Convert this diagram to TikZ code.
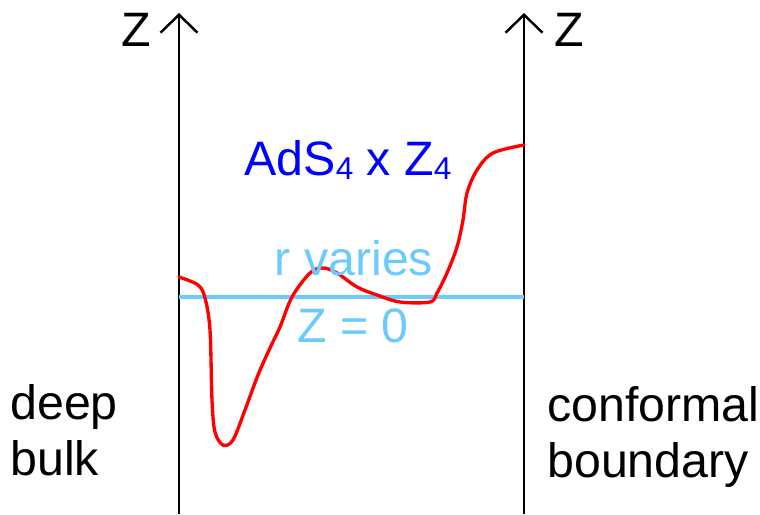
\documentclass[tikz,border=0pt]{standalone}
\usepackage{fontspec}
\setmainfont{Liberation Sans}
\usetikzlibrary{positioning, arrows.meta}
\definecolor{adsBlue}{HTML}{0000FF}
\definecolor{adsSky}{HTML}{6CCBFA}
\definecolor{adsRed}{HTML}{FF0000}
\tikzset{
  axisline/.style={line width=1.2pt, -{Straight Barb[length=0.36cm, width=0.74cm, line width=1.4pt]}},
  bigtext/.style={inner sep=0pt, font=\fontsize{27.5}{32}\selectfont},
}
\newcommand{\adssub}[1]{{\fontsize{18}{18}\selectfont\raisebox{-2pt}{#1}}}

\begin{document}
\begin{tikzpicture}[x=0.02cm, y=-0.02cm]
    \useasboundingbox (0,0) rectangle (760,514);
    \coordinate (bulkfoot) at (179,514);
    \coordinate (bulktop) at (179,13);
    \coordinate (bdyfoot) at (524,514);
    \coordinate (bdytop) at (524,13);
    \draw[axisline] (bulkfoot) -- (bulktop);
    \draw[axisline] (bdyfoot) -- (bdytop);
    \node[bigtext] (zleft) at (136,30) {Z};
    \node[bigtext] (zright) at (569,30) {Z};
    \coordinate (zeroL) at (179,297);
    \coordinate (zeroR) at (524,297);
    \draw[adsSky, line width=1.8pt] (zeroL) -- (zeroR);
    \draw[adsRed, line width=1.9pt, line cap=round] plot[smooth, tension=0.55] coordinates {
      (179,277) (198,285) (205,298) (210,330) (212,400) (215,432) (223,445)
      (233,440) (245,410) (258,375) (270,348) (280,327) (292,297) (310,273)
      (323,268) (337,273) (357,287) (377,295) (400,302) (430,302) (437,293)
      (447,273) (457,247) (463,220) (467,193) (477,170) (493,153) (524,145)};
    \node[bigtext, text=adsBlue] (adslabel) at (348,160) {AdS\adssub{4} x Z\adssub{4}};
    \node[bigtext, text=adsSky] (rlabel) at (354,258) {r varies};
    \node[bigtext, text=adsSky] (zerolabel) at (353,326) {Z = 0};
    \node[bigtext, anchor=west, align=left] (bulklabel) at (10,430) {deep\\bulk};
    \node[bigtext, anchor=west, align=left] (bdylabel) at (547,437) {conformal\\boundary};
  \end{tikzpicture}
\end{document}
